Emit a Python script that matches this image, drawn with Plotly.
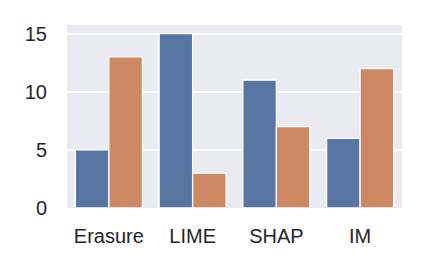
import plotly.graph_objects as go

categories = ["Erasure", "LIME", "SHAP", "IM"]
series_a = [5, 15, 11, 6]
series_b = [13, 3, 7, 12]
y_ticks = [0, 5, 10, 15]

blue = "#5975A4"
orange = "#CC8963"

fig = go.Figure()
fig.add_trace(go.Bar(x=categories, y=series_a, marker=dict(color=blue, line=dict(color="white", width=1.3)), showlegend=False))
fig.add_trace(go.Bar(x=categories, y=series_b, marker=dict(color=orange, line=dict(color="white", width=1.3)), showlegend=False))

fig.update_layout(
    width=419, height=263,
    margin=dict(l=59, r=25, t=17, b=63),
    paper_bgcolor="white",
    plot_bgcolor="#EAEAF2",
    barmode="group",
    bargap=0.2,
    bargroupgap=0,
    font=dict(family="Liberation Sans, Arial, sans-serif", size=20, color="#262626"),
)
fig.update_xaxes(
    showgrid=False,
    ticks="outside", ticklen=10, tickcolor="rgba(0,0,0,0)",
    showline=False, zeroline=False,
)
fig.update_yaxes(
    range=[0, 15.75], tickvals=y_ticks,
    showgrid=True, gridcolor="white", gridwidth=1.6,
    ticks="outside", ticklen=15, tickcolor="rgba(0,0,0,0)",
    showline=False, zeroline=False,
)

fig.write_html("out.html")
